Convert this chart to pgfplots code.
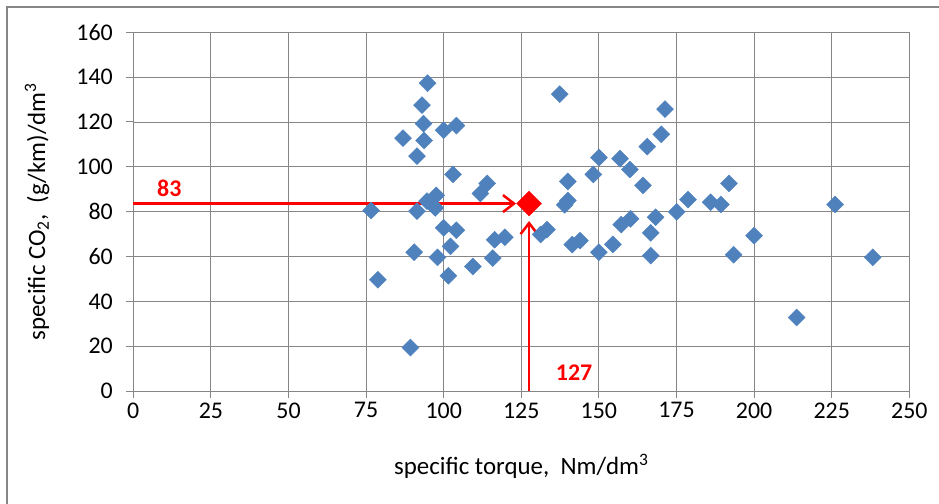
\documentclass[border=0pt]{standalone}
\usepackage{fontspec}
\setmainfont{Carlito}
\usepackage{pgfplots}
\pgfplotsset{compat=1.18}
\usetikzlibrary{arrows.meta}
\definecolor{xlblue}{RGB}{79,129,189}
\definecolor{xlgrid}{RGB}{134,134,134}

\begin{document}
\begin{tikzpicture}
% page = 939 x 504 px, plot area lower left at origin
\useasboundingbox (-133.3bp,-113bp) rectangle (805.7bp,391bp);
\draw[xlgrid, line width=2bp] (-126.3bp,-113bp) -- (-126.3bp,384.3bp) -- (805.7bp,384.3bp);
\begin{axis}[
    scale only axis,
    width=776bp, height=358.7bp,
    xmin=0, xmax=250, ymin=0, ymax=160,
    xtick distance=25, ytick distance=20,
    grid=major,
    grid style={xlgrid, line width=0.9bp},
    axis line style={xlgrid, line width=1bp},
    tick style={xlgrid, line width=1bp},
    tick align=outside,
    major tick length=7bp,
    xtick pos=bottom, ytick pos=left,
    /pgf/number format/assume math mode=true,
    ticklabel style={font=\fontsize{24}{28}\selectfont},
    yticklabel style={xshift=-10bp},
    xticklabel style={yshift=-1bp},
    label style={font=\fontsize{25}{30}\selectfont},
    xlabel={specific torque,~ Nm/dm\textsuperscript{3}},
    ylabel={specific CO\textsubscript{2},~ (g/km)/dm\textsuperscript{3}},
    xlabel style={at={(axis description cs:0.5,-0.209)}, anchor=center},
    ylabel style={at={(axis description cs:-0.124,0.5)}, anchor=center},
    clip=false,
]
\addplot[only marks, mark=square*, mark size=6bp,
         mark options={rotate=45, fill=xlblue, draw=xlblue}]
coordinates {
(76.6,80.5) (78.8,49.6) (86.9,112.8) (89.3,19.4) (90.5,61.9)
(91.4,104.8) (91.4,80.2) (93.0,127.5) (93.5,119.3) (93.7,111.7)
(94.8,137.3) (94.6,84.7) (97.6,87.3) (97.3,81.7) (98.0,59.6)
(100.0,116.3) (100.0,72.8) (101.5,51.4) (102.2,64.5) (103.0,96.6)
(104.1,118.4) (104.1,71.7) (109.4,55.5) (111.8,88.1) (114.0,92.6)
(115.8,59.3) (116.4,67.5) (119.7,68.6) (131.2,69.8) (133.3,72.0)
(137.4,132.4) (139.0,83.0) (140.0,85.0) (140.0,93.5) (141.4,65.3)
(143.9,67.1) (148.2,96.6) (150.0,104.1) (150.0,61.9) (154.5,65.4)
(156.8,103.6) (157.2,74.2) (160.2,76.8) (160.0,98.8) (164.2,91.7)
(165.6,109.0) (166.7,70.5) (166.7,60.4) (168.3,77.5) (170.1,114.5)
(171.3,125.7) (175.1,79.9) (178.7,85.4) (186.0,84.2) (189.3,83.2)
(191.9,92.6) (193.4,60.8) (200.0,69.3) (213.7,32.8) (226.1,83.2)
(238.2,59.6)
};
% reference lines to the highlighted machine
\addplot[red, line width=2.5bp, -{Straight Barb[length=11bp,width=17bp,line width=2.5bp]}]
coordinates {(0,83.6) (123.3,83.6)};
\addplot[red, line width=2.5bp, -{Straight Barb[length=11bp,width=17bp,line width=2.5bp]}]
coordinates {(127.5,0) (127.5,75.8)};
\addplot[only marks, mark=square*, mark size=8.8bp,
         mark options={rotate=45, fill=red, draw=red}]
coordinates {(127.5,83.6)};
\node[red, font=\fontsize{24}{28}\selectfont\bfseries] at (axis cs:11.6,90.6) {83};
\node[red, font=\fontsize{24}{28}\selectfont\bfseries] at (axis cs:142,8) {127};
\end{axis}
\end{tikzpicture}
\end{document}
